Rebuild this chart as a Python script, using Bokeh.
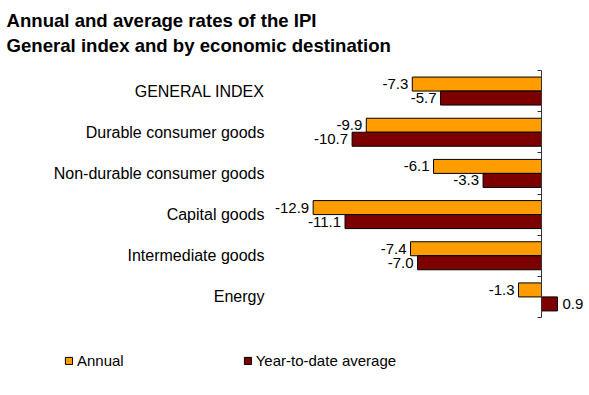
from bokeh.plotting import figure
from bokeh.models import (ColumnDataSource, Range1d, FixedTicker, Label, Legend, LegendItem)
from bokeh.core.properties import value
from bokeh.embed import file_html
from bokeh.resources import INLINE

categories = ["GENERAL INDEX", "Durable consumer goods", "Non-durable consumer goods",
              "Capital goods", "Intermediate goods", "Energy"]
annual = [-7.3, -9.9, -6.1, -12.9, -7.4, -1.3]
ytd_average = [-5.7, -10.7, -3.3, -11.1, -7.0, 0.9]
series_names = ["Annual", "Year-to-date average"]
title_lines = ["Annual and average rates of the IPI", "General index and by economic destination"]

ORANGE = "#FF9C00"
DARKRED = "#7D0000"
FONT = "Liberation Sans"

n = len(categories)
centers = [n - 0.5 - i for i in range(n)]
bar_h = 0.34

src = ColumnDataSource(dict(
    cat=categories,
    yc=centers,
    ya=[c + bar_h / 2 for c in centers],
    yb=[c - bar_h / 2 for c in centers],
    annual=annual,
    avg=ytd_average,
    annual_lbl=[f"{v:.1f}" for v in annual],
))

W, H = 589, 387
p = figure(width=W, height=H, output_backend="svg", toolbar_location=None,
           x_range=Range1d(-30.565, 2.712), y_range=Range1d(-1.70, 7.70),
           min_border=0, min_border_left=0, min_border_right=0,
           min_border_top=0, min_border_bottom=0)
p.outline_line_color = None
p.grid.visible = False
p.xaxis.visible = False

r1 = p.hbar(y="ya", right="annual", left=0, height=bar_h, source=src,
            fill_color=ORANGE, line_color="#000000", line_width=1)
r2 = p.hbar(y="yb", right="avg", left=0, height=bar_h, source=src,
            fill_color=DARKRED, line_color="#000000", line_width=1)

# zero axis with ticks at category boundaries
ax = p.yaxis[0]
ax.fixed_location = 0
ax.bounds = (0, n)
ax.ticker = FixedTicker(ticks=list(range(n + 1)))
ax.major_label_overrides = {i: "" for i in range(n + 1)}
ax.major_tick_out = 4
ax.major_tick_in = 0
ax.minor_tick_out = 0
ax.minor_tick_in = 0
ax.axis_line_color = "#333333"
ax.major_tick_line_color = "#333333"

# category labels
p.text(x=-15.65, y="yc", text="cat", source=src, text_align="right",
       text_baseline="middle", text_font=value(FONT), text_font_size="16px",
       text_color="#000000")

# value labels
p.text(x="annual", y="ya", text="annual_lbl", source=src, text_align="right",
       text_baseline="middle", x_offset=-4, text_font=value(FONT),
       text_font_size="15px", text_color="#000000")
avg_neg = ColumnDataSource(dict(x=[v for v in ytd_average if v < 0],
                                y=[y for v, y in zip(ytd_average, src.data["yb"]) if v < 0],
                                t=[f"{v:.1f}" for v in ytd_average if v < 0]))
avg_pos = ColumnDataSource(dict(x=[v for v in ytd_average if v >= 0],
                                y=[y for v, y in zip(ytd_average, src.data["yb"]) if v >= 0],
                                t=[f"{v:.1f}" for v in ytd_average if v >= 0]))
p.text(x="x", y="y", text="t", source=avg_neg, text_align="right",
       text_baseline="middle", x_offset=-4, text_font=value(FONT),
       text_font_size="15px", text_color="#000000")
p.text(x="x", y="y", text="t", source=avg_pos, text_align="left",
       text_baseline="middle", x_offset=5, text_font=value(FONT),
       text_font_size="15px", text_color="#000000")

# titles
for i, t in enumerate(title_lines):
    p.add_layout(Label(x=6, y=H - 20 - 25 * i, x_units="screen", y_units="screen",
                       text=t, text_font=FONT, text_font_size="18.6px",
                       text_font_style="bold", text_baseline="alphabetic",
                       text_color="#000000"))

legend = Legend(items=[LegendItem(label=series_names[0], renderers=[r1]),
                       LegendItem(label=series_names[1], renderers=[r2])],
                orientation="horizontal", location=(64, 18),
                glyph_width=9, glyph_height=9, label_standoff=4, spacing=119,
                padding=0, margin=0, label_height=12, border_line_color=None,
                background_fill_alpha=0, label_text_font=FONT,
                label_text_font_size="15px", label_text_color="#000000")
p.add_layout(legend)

open("out.html", "w").write(file_html(p, INLINE))
